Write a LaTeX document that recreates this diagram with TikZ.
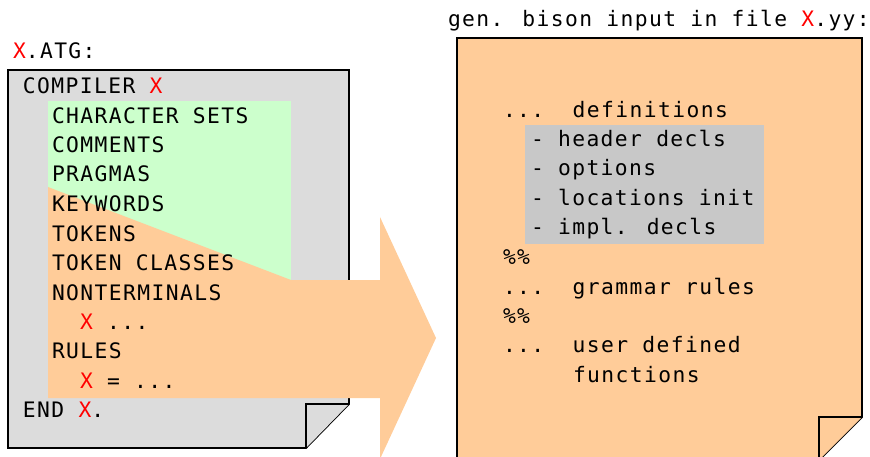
\documentclass[tikz,border=0pt]{standalone}
\usepackage{fontspec}
\newfontfamily\codefont{DejaVu Sans Mono}[LetterSpace=6.6]
\definecolor{docgray}{HTML}{DCDCDC}
\definecolor{mintgreen}{HTML}{CCFFCC}
\definecolor{peach}{HTML}{FFCC99}
\definecolor{declgray}{HTML}{C8C8C8}
\definecolor{xred}{HTML}{FF0000}
\newcommand{\X}{\textcolor{xred}{X}}
\tikzset{
  codeline/.style={anchor=base west, inner sep=0pt, outer sep=0pt,
    font=\codefont\fontsize{21.3}{25}\selectfont},
  docborder/.style={draw=black, line width=1.8pt, line join=miter},
}
\begin{document}
\begin{tikzpicture}[x=1pt, y=-1pt]
\useasboundingbox (0,0) rectangle (870,457);

% ---- source grammar file (left sheet) ----
\draw[docborder, fill=docgray]
  (8,70) -- (349,70) -- (349,404) -- (306,448) -- (8,448) -- cycle;
\draw[docborder, fill=docgray] (306,448) -- (306,404) -- (349,404);

% scanner part
\fill[mintgreen] (48,101) rectangle (291,280);

% transformation arrow, also covering the parser part
\fill[peach] (48,187) -- (291,280) -- (380,280) -- (380,217) -- (436,338)
  -- (380,459) -- (380,398) -- (48,398) -- cycle;

% ---- generated bison file (right sheet) ----
\draw[docborder, fill=peach]
  (457,38) -- (862,38) -- (862,417) -- (819,460) -- (457,460) -- cycle;
\draw[docborder, fill=peach] (819,460) -- (819,417) -- (862,417);
\fill[declgray] (525,125) rectangle (764,244);

% ---- left text ----
\node[codeline] (atg)      at (13,59)  {\X.ATG:};
\node[codeline] (compiler) at (23,94)  {COMPILER \X};
\node[codeline] (charsets) at (52,124) {CHARACTER SETS};
\node[codeline] (comments) at (52,153) {COMMENTS};
\node[codeline] (pragmas)  at (52,182) {PRAGMAS};
\node[codeline] (keywords) at (52,212) {KEYWORDS};
\node[codeline] (tokens)   at (52,241) {TOKENS};
\node[codeline] (tclasses) at (52,270) {TOKEN CLASSES};
\node[codeline] (nonterms) at (52,300) {NONTERMINALS};
\node[codeline] (ntdecl)   at (80,329) {\X{} ...};
\node[codeline] (rules)    at (52,358) {RULES};
\node[codeline] (ruledecl) at (80,388) {\X{} = ...};
\node[codeline] (endx)     at (23,417) {END \X.};

% ---- right text ----
\node[codeline] (yy)       at (448,27)  {gen. bison input in file \X.yy:};
\node[codeline] (defs)     at (503,118) {...\ \ definitions};
\node[codeline] (hdr)      at (531,147) {- header decls};
\node[codeline] (opts)     at (531,176) {- options};
\node[codeline] (locs)     at (531,206) {- locations init};
\node[codeline] (impl)     at (531,235) {- impl. decls};
\node[codeline] (sepa)     at (503,264) {\%\%};
\node[codeline] (gram)     at (503,294) {...\ \ grammar rules};
\node[codeline] (sepb)     at (503,323) {\%\%};
\node[codeline] (user)     at (503,352) {...\ \ user defined};
\node[codeline] (funcs)    at (573,382) {functions};
\end{tikzpicture}
\end{document}
